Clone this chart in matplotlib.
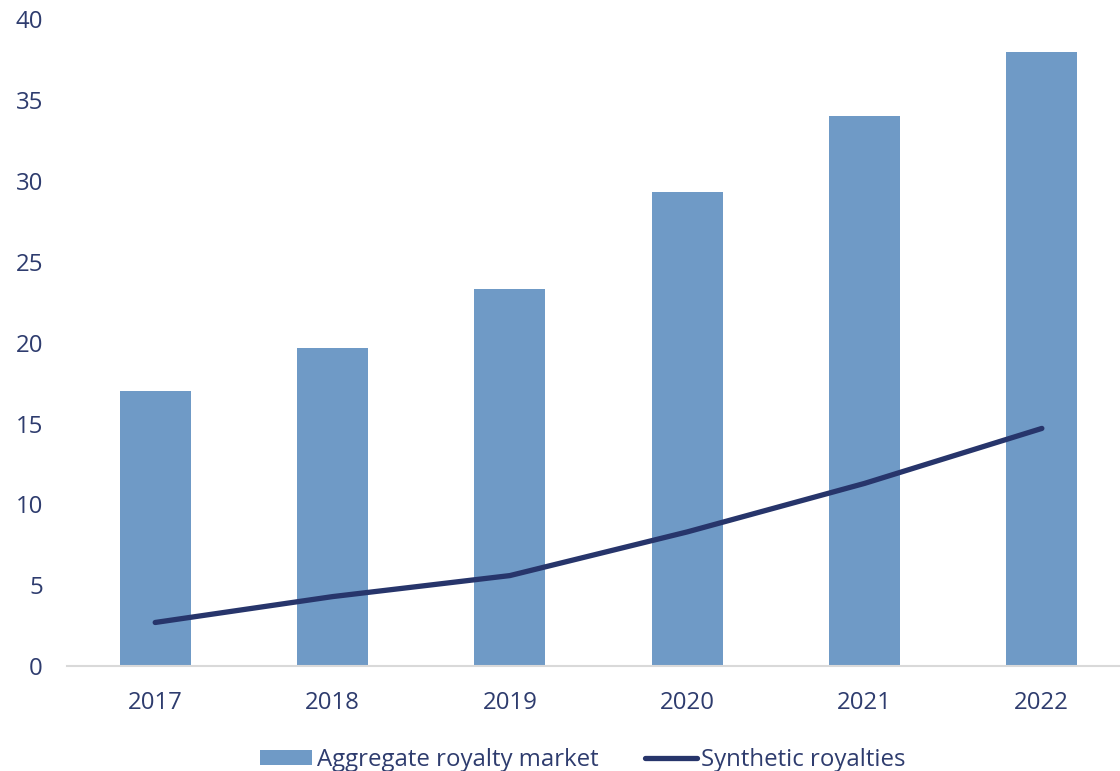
import matplotlib.pyplot as plt
import numpy as np

plt.rcParams["font.family"] = ["Open Sans", "DejaVu Sans"]

years = ["2017", "2018", "2019", "2020", "2021", "2022"]
aggregate = [17.0, 19.7, 23.3, 29.3, 34.0, 38.0]
synthetic = [2.7, 4.3, 5.6, 8.3, 11.3, 14.7]

BAR = "#6f9ac6"
LINE = "#27356b"
TEXT = "#2e3c6e"
FS = 17.3

fig = plt.figure(figsize=(11.2, 7.71), dpi=100)
ax = fig.add_axes([0.0594, 0.136, 0.95, 0.839])

x = np.arange(len(years))
bars = ax.bar(x, aggregate, width=0.4, color=BAR, label="Aggregate royalty market", zorder=2)
line, = ax.plot(x, synthetic, color=LINE, lw=3.8, solid_capstyle="round",
                label="Synthetic royalties", zorder=3)

ax.set_xlim(-0.5, len(years) - 0.5)
ax.set_ylim(0, 40)
ax.set_yticks(range(0, 41, 5))
ax.set_xticks(x)
ax.set_xticklabels(years)
ax.tick_params(axis="both", length=0, labelsize=FS, labelcolor=TEXT)
ax.tick_params(axis="x", pad=18)
ax.tick_params(axis="y", pad=17)

for side in ["left", "right", "top"]:
    ax.spines[side].set_visible(False)
ax.spines["bottom"].set_color("#d9d9d9")
ax.spines["bottom"].set_linewidth(1.5)

leg = fig.legend([bars, line], ["Aggregate royalty market", "Synthetic royalties"],
                 loc="center", bbox_to_anchor=(583 / 1120, 1 - 760 / 771), ncol=2,
                 frameon=False, fontsize=FS, handlelength=2.15, handleheight=0.6,
                 handletextpad=0.2, columnspacing=1.95, borderpad=0)
for t in leg.get_texts():
    t.set_color(TEXT)

fig.savefig("out.png", dpi=100)
